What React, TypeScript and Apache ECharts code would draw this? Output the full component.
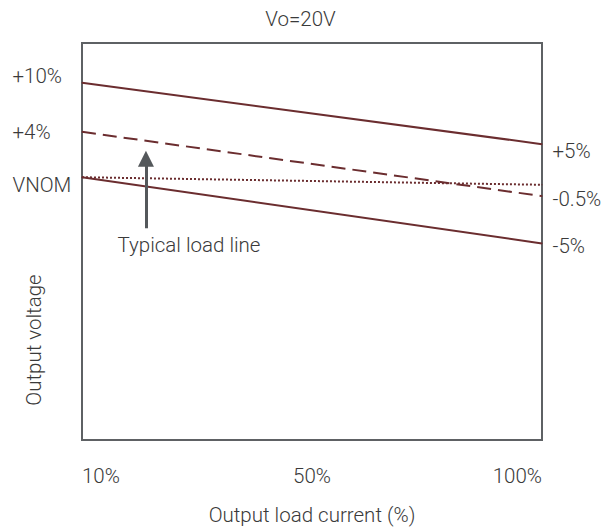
import React, { useEffect, useRef } from "react";
import * as echarts from "echarts";

// X axis: schematic load positions (0 = left edge, 100 = right edge)
const loadTickLabels = ["10%", "50%", "100%"];
const loadPos = [0, 100];

// Y values in schematic % deviation units
const upperLimit = [10, 3.5];
const typicalLoad = [4.8, -2.0];
const nominal = [0, -0.8];
const lowerLimit = [0, -7.0];

const upperLabels = ["+10%", "+5%"];
const typicalLabels = ["+4%", "-0.5%"];
const nominalLabels = ["VNOM", ""];
const lowerLabels = ["", "-5%"];

// annotation arrow (data units)
const arrowX = 13.9;
const arrowFrom = -5.4;
const arrowShaftTo = 1.6;
const arrowHead = 1.96;

const FONT = "Roboto";
const TEXT = "#3a3a3a";
const LINE = "#6b2d2f";
const ARROW = "#54585b";
const FS = 20.5;

export default function App() {
  const ref = useRef<HTMLDivElement>(null);
  useEffect(() => {
    const chart = echarts.init(ref.current!, null, { renderer: "svg" });
    const textStyle = { fontFamily: FONT, fontWeight: 300, fontSize: FS, color: TEXT };

    const mkData = (ys: number[], labels: string[], offs: number[][]) =>
      ys.map((y, i) => ({
        value: [loadPos[i], y],
        label: labels[i]
          ? i === 0
            ? {
                show: true,
                position: "left",
                align: "left",
                distance: 69,
                offset: offs[i],
                formatter: labels[i],
                ...textStyle,
              }
            : {
                show: true,
                position: "right",
                align: "left",
                distance: 10,
                offset: offs[i],
                formatter: labels[i],
                ...textStyle,
              }
          : { show: false },
      }));

    const lineSeries = (name: string, ys: number[], labels: string[], offs: number[][], type: any, width: number, extra: any = {}) => ({
      name,
      type: "line",
      data: mkData(ys, labels, offs),
      symbol: "circle",
      symbolSize: 1,
      itemStyle: { color: LINE },
      lineStyle: { color: LINE, width, type },
      silent: true,
      z: 3,
      ...extra,
    });

    chart.setOption({
      animation: false,
      title: {
        text: "Vo=20V",
        left: 300.5,
        top: 8,
        padding: 0,
        textAlign: "center",
        textStyle: { ...textStyle },
      },
      grid: {
        left: 82,
        right: 72,
        top: 43,
        bottom: 88,
        show: true,
        borderColor: "#5e6164",
        borderWidth: 2,
        backgroundColor: "transparent",
        outerBoundsMode: "none",
        containLabel: false,
      },
      xAxis: {
        type: "value",
        min: 0,
        max: 100,
        interval: 50,
        splitLine: { show: false },
        axisLine: { show: false },
        axisTick: { show: false },
        axisLabel: {
          ...textStyle,
          margin: 25,
          alignMinLabel: "left",
          alignMaxLabel: "right",
          formatter: (v: number) => loadTickLabels[Math.round(v / 50)] ?? "",
        },
        name: "Output load current (%)",
        nameLocation: "middle",
        nameGap: 64,
        nameTextStyle: textStyle,
      },
      yAxis: {
        type: "value",
        min: -27.8,
        max: 14.2,
        splitLine: { show: false },
        axisLine: { show: false },
        axisTick: { show: false },
        axisLabel: { show: false },
      },
      graphic: [
        {
          type: "text",
          x: 33.5,
          y: 340,
          rotation: Math.PI / 2,
          style: {
            text: "Output voltage",
            fontFamily: FONT,
            fontWeight: 300,
            fontSize: FS,
            fill: TEXT,
            textAlign: "center",
            textVerticalAlign: "middle",
          },
        },
        {
          type: "text",
          x: 189,
          y: 245,
          style: {
            text: "Typical load line",
            fontFamily: FONT,
            fontWeight: 300,
            fontSize: FS,
            fill: TEXT,
            textAlign: "center",
            textVerticalAlign: "middle",
          },
        },
      ],
      series: [
        lineSeries("upper", upperLimit, upperLabels, [[0, -7], [0, 7]], "solid", 2),
        lineSeries("typical", typicalLoad, typicalLabels, [[0, 0], [0, 3]], [14, 7], 2, {
          markLine: {
            silent: true,
            symbol: ["none", "none"],
            label: { show: false },
            lineStyle: { color: ARROW, width: 3, type: "solid" },
            data: [[{ coord: [arrowX, arrowFrom] }, { coord: [arrowX, arrowShaftTo] }]],
            z: 4,
          },
          markPoint: {
            silent: true,
            symbol: "triangle",
            symbolSize: 16,
            itemStyle: { color: ARROW },
            label: { show: false },
            data: [{ coord: [arrowX, arrowHead] }],
            z: 4,
          },
        }),
        lineSeries("nominal", nominal, nominalLabels, [[0, 8], [0, 0]], [2, 2], 2),
        lineSeries("lower", lowerLimit, lowerLabels, [[0, 0], [0, 3]], "solid", 2),
      ],
    });
    return () => chart.dispose();
  }, []);
  return (
    <div
      ref={ref}
      style={{ position: "absolute", left: 0, top: 0, width: 614, height: 528 }}
    />
  );
}
